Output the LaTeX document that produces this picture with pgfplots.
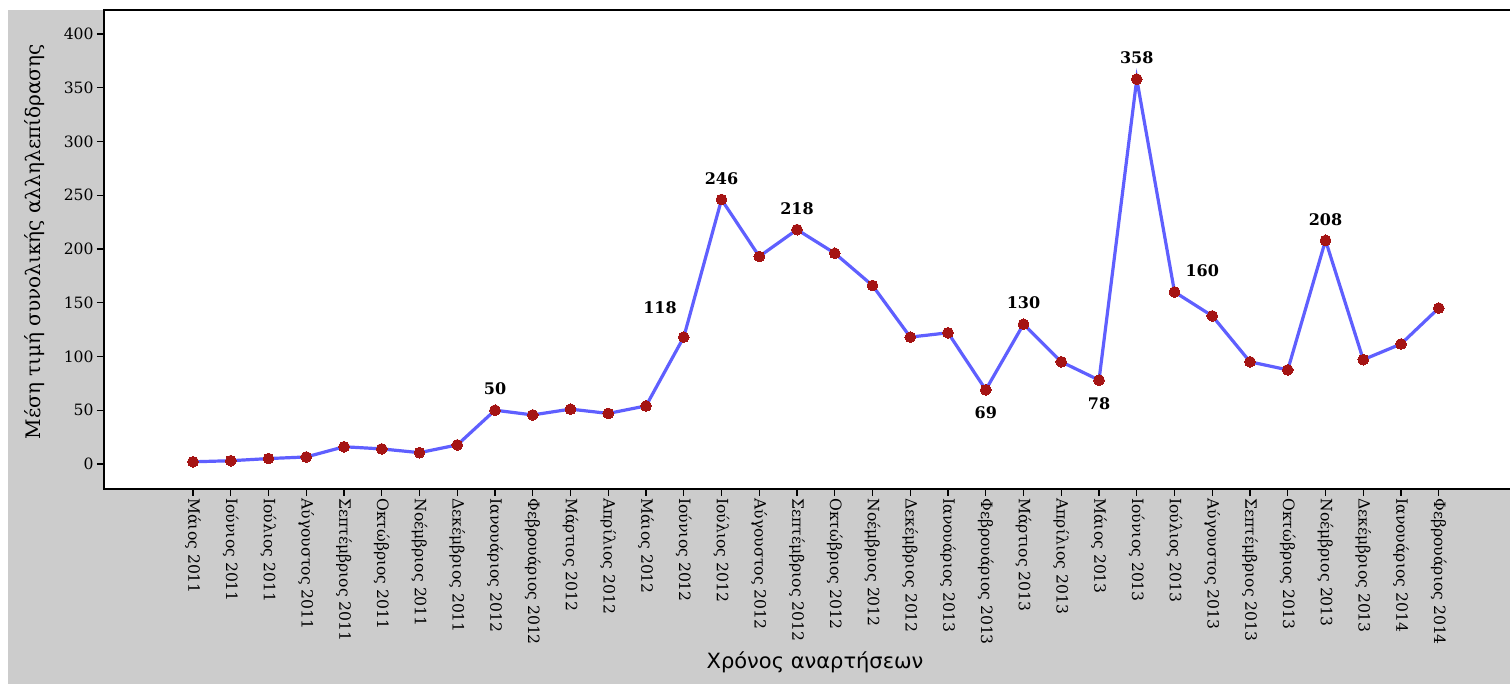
\documentclass[border=0pt]{standalone}
\usepackage{fontspec}
\setmainfont{DejaVu Serif}
\newfontfamily\sansf{DejaVu Sans}
\usepackage{pgfplots}
\pgfplotsset{compat=1.18}
\definecolor{bg}{RGB}{204,204,204}
\definecolor{ln}{RGB}{95,95,255}
\definecolor{mk}{RGB}{165,20,20}
\begin{document}
\begin{tikzpicture}[x=1pt,y=1pt]
\fill[white] (0,0) rectangle (755,342);
\fill[bg] (4,0) rectangle (755,337);
\begin{axis}[
  at={(52pt,97.5pt)}, anchor=south west,
  scale only axis, width=704pt, height=239.5pt,
  xmin=-2.358, xmax=34.94, ymin=-23.3, ymax=422.3,
  axis background/.style={fill=white},
  axis line style={black, line width=0.8pt},
  tick align=outside, xtick pos=bottom, ytick pos=left,
  major tick length=3.5pt,
  tick style={black, line width=0.6pt},
  ytick={0,50,...,400},
  xtick={0,...,33},
  xticklabels={Μάιος 2011,Ιούνιος 2011,Ιούλιος 2011,Αύγουστος 2011,Σεπτέμβριος 2011,Οκτώβριος 2011,Νοέμβριος 2011,Δεκέμβριος 2011,Ιανουάριος 2012,Φεβρουάριος 2012,Μάρτιος 2012,Απρίλιος 2012,Μάιος 2012,Ιούνιος 2012,Ιούλιος 2012,Αύγουστος 2012,Σεπτέμβριος 2012,Οκτώβριος 2012,Νοέμβριος 2012,Δεκέμβριος 2012,Ιανουάριος 2013,Φεβρουάριος 2013,Μάρτιος 2013,Απρίλιος 2013,Μάιος 2013,Ιούνιος 2013,Ιούλιος 2013,Αύγουστος 2013,Σεπτέμβριος 2013,Οκτώβριος 2013,Νοέμβριος 2013,Δεκέμβριος 2013,Ιανουάριος 2014,Φεβρουάριος 2014},
  xticklabel style={rotate=-90, anchor=west, font=\fontsize{7.8}{9}\selectfont, inner sep=1pt},
  yticklabel style={font=\fontsize{7.8}{9}\selectfont, inner sep=1.5pt},
  /pgf/number format/assume math mode=true,
  ylabel={Μέση τιμή συνολικής αλληλεπίδρασης},
  ylabel style={at={(axis description cs:-0.049,0.516)}, anchor=center, rotate=0, font=\fontsize{10}{12}\selectfont},
  xlabel={Χρόνος αναρτήσεων},
  xlabel style={at={(axis description cs:0.505,-0.361)}, anchor=center, font=\sansf\fontsize{10.5}{12}\selectfont},
  clip=false,
]
\addplot[ln, line width=1.6pt, mark=*, mark size=2.7pt, mark options={fill=mk, draw=mk, line width=0pt}] coordinates {
(0,2) (1,3) (2,5) (3,6.5) (4,16) (5,14) (6,10.5) (7,17.7) (8,50) (9,45.6) (10,51) (11,47) (12,54)
(13,118) (14,246) (15,193) (16,218) (17,196) (18,166) (19,118) (20,122) (21,69) (22,130) (23,95)
(24,78) (25,358) (26,160) (27,137.7) (28,95) (29,87.5) (30,208) (31,97) (32,111.6) (33,145)
};
\addplot[draw=none, mark=none, nodes near coords, point meta=y,
  nodes near coords style={font=\bfseries\fontsize{8}{9}\selectfont, anchor=south, yshift=4pt, /pgf/number format/fixed, /pgf/number format/precision=0, /pgf/number format/assume math mode=true}]
  coordinates {(8,50) (14,246) (16,218) (22,130) (25,358) (30,208)};
\addplot[draw=none, mark=none, nodes near coords, point meta=y,
  nodes near coords style={font=\bfseries\fontsize{8}{9}\selectfont, anchor=north, yshift=-5pt, /pgf/number format/fixed, /pgf/number format/precision=0, /pgf/number format/assume math mode=true}]
  coordinates {(21,69) (24,78)};
\addplot[draw=none, mark=none, nodes near coords, point meta=y,
  nodes near coords style={font=\bfseries\fontsize{8}{9}\selectfont, anchor=south east, xshift=0pt, yshift=8pt, /pgf/number format/fixed, /pgf/number format/precision=0, /pgf/number format/assume math mode=true}]
  coordinates {(13,118)};
\addplot[draw=none, mark=none, nodes near coords, point meta=y,
  nodes near coords style={font=\bfseries\fontsize{8}{9}\selectfont, anchor=south west, xshift=2pt, yshift=4pt, /pgf/number format/fixed, /pgf/number format/precision=0, /pgf/number format/assume math mode=true}]
  coordinates {(26,160)};
\end{axis}
\pgfresetboundingbox
\useasboundingbox (0,0) rectangle (755,342);
\end{tikzpicture}
\end{document}
